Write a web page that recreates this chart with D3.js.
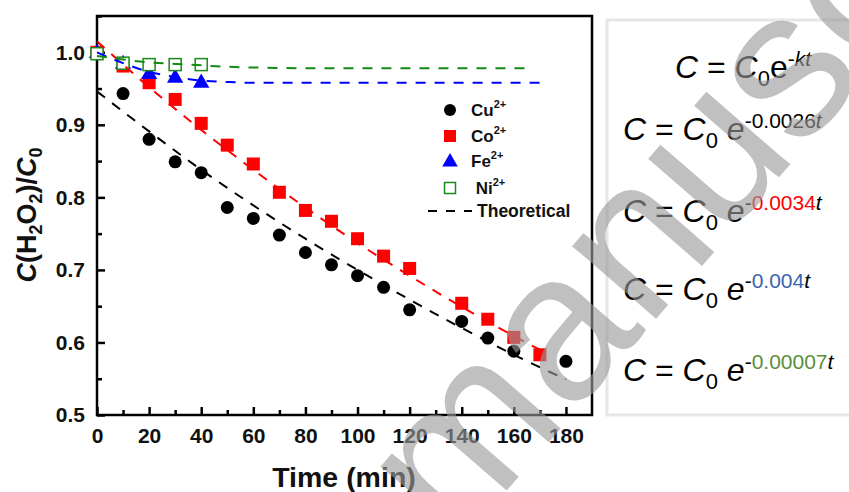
<!DOCTYPE html>
<html>
<head>
<meta charset="utf-8">
<script src="https://cdn.jsdelivr.net/npm/d3@7/dist/d3.min.js"></script>
<style>
  html, body { margin: 0; padding: 0; background: #fff; }
  svg { display: block; }
  text { font-family: Arial, "Liberation Sans", sans-serif; }
</style>
</head>
<body>
<svg id="chart" width="849" height="492"></svg>
<script>
// ---------- data ----------
const timeCu = [0, 10, 20, 30, 40, 50, 60, 70, 80, 90, 100, 110, 120, 140, 150, 160, 180];
const valCu  = [1.0, 0.943, 0.880, 0.849, 0.834, 0.786, 0.771, 0.748, 0.724, 0.707, 0.692, 0.676, 0.645, 0.629, 0.606, 0.588, 0.574];

const timeCo = [0, 10, 20, 30, 40, 50, 60, 70, 80, 90, 100, 110, 120, 140, 150, 160, 170];
const valCo  = [1.0, 0.981, 0.958, 0.935, 0.902, 0.872, 0.846, 0.807, 0.782, 0.767, 0.743, 0.719, 0.702, 0.654, 0.632, 0.607, 0.583];

const timeFe = [0, 10, 20, 30, 40];
const valFe  = [1.0, 0.985, 0.971, 0.966, 0.959];

const timeNi = [0, 10, 20, 30, 40];
const valNi  = [0.998, 0.985, 0.983, 0.983, 0.983];

// dashed fitted curves
const fitCuT = [0, 20, 40, 60, 80, 100, 120, 140, 160, 180];
const fitCuV = [0.946, 0.891, 0.838, 0.789, 0.743, 0.700, 0.659, 0.620, 0.583, 0.549];
const fitCoT = [0, 20, 40, 60, 80, 100, 120, 140, 160, 171];
const fitCoV = [1.015, 0.952, 0.893, 0.838, 0.786, 0.737, 0.692, 0.649, 0.609, 0.588];
const fitFeT = [0, 10, 20, 30, 40, 50, 60, 170];
const fitFeV = [1.0, 0.985, 0.973, 0.966, 0.961, 0.959, 0.958, 0.958];
const fitNiT = [0, 10, 20, 30, 40, 50, 60, 80, 167];
const fitNiV = [0.995, 0.990, 0.986, 0.984, 0.982, 0.980, 0.979, 0.978, 0.978];

const xTicks = [0, 20, 40, 60, 80, 100, 120, 140, 160, 180];
const yTicks = [0.5, 0.6, 0.7, 0.8, 0.9, 1.0];

const legendLabels = ["Cu", "Co", "Fe", " Ni"];
const eqRates = ["0.0026", "0.0034", "0.004", "0.00007"];
const eqColors = ["#000000", "#ff0000", "#3c63ad", "#5b8d3b"];

// ---------- layout ----------
const svg = d3.select("#chart");
const X0 = 97, X1 = 592, Y0 = 16, Y1 = 415;
const x = d3.scaleLinear().domain([0, 190]).range([X0, X1]);
const y = d3.scaleLinear().domain([0.5, 1.05]).range([Y1, Y0]);

const FONT = 'Arial, "Liberation Sans", sans-serif';

// axes with inward ticks
const xAxis = d3.axisBottom(x).tickValues(xTicks).tickSize(-8).tickPadding(13).tickFormat(d3.format("d"));
const xMinor = d3.axisBottom(x).tickValues(d3.range(10, 190, 20)).tickSize(-5).tickFormat("");
const yAxis = d3.axisLeft(y).tickValues(yTicks).tickSize(-8).tickPadding(12).tickFormat(d3.format(".1f"));
const yMinor = d3.axisLeft(y).tickValues([0.55, 0.65, 0.75, 0.85, 0.95, 1.05]).tickSize(-5).tickFormat("");

function styleAxis(g) {
  g.select(".domain").remove();
  g.selectAll(".tick line").attr("stroke", "#000").attr("stroke-width", 2.5);
  g.selectAll(".tick text").attr("font-family", FONT).attr("font-weight", "bold")
    .attr("font-size", 21).attr("fill", "#111");
}
svg.append("g").attr("transform", `translate(0,${Y1})`).call(xAxis).call(styleAxis);
svg.append("g").attr("transform", `translate(0,${Y1})`).call(xMinor).call(styleAxis);
svg.append("g").attr("transform", `translate(${X0},0)`).call(yAxis).call(styleAxis);
svg.append("g").attr("transform", `translate(${X0},0)`).call(yMinor).call(styleAxis);

// frame
svg.append("rect").attr("x", X0).attr("y", Y0).attr("width", X1 - X0).attr("height", Y1 - Y0)
  .attr("fill", "none").attr("stroke", "#000").attr("stroke-width", 2.5);

// axis titles
svg.append("text").attr("x", 344).attr("y", 487).attr("text-anchor", "middle")
  .attr("font-family", FONT).attr("font-weight", "bold").attr("font-size", 28.5).attr("fill", "#111")
  .text("Time (min)");

const yt = svg.append("text").attr("transform", "translate(36,215) rotate(-90)")
  .attr("text-anchor", "middle").attr("font-family", FONT).attr("font-weight", "bold")
  .attr("font-size", 27).attr("fill", "#111");
yt.append("tspan").attr("font-style", "italic").text("C");
yt.append("tspan").text("(H");
yt.append("tspan").attr("font-size", 18).attr("dy", 6).text("2");
yt.append("tspan").attr("dy", -6).text("O");
yt.append("tspan").attr("font-size", 18).attr("dy", 6).text("2");
yt.append("tspan").attr("dy", -6).text(")/");
yt.append("tspan").attr("font-style", "italic").text("C");
yt.append("tspan").attr("font-size", 18).attr("dy", 6).text("0");

// ---------- markers ----------
const plot = svg.append("g");
function pts(ts, vs) { return ts.map((t, i) => [t, vs[i]]); }

plot.selectAll("circle.cu").data(pts(timeCu, valCu)).join("circle")
  .attr("cx", d => x(d[0])).attr("cy", d => y(d[1])).attr("r", 6.5).attr("fill", "#000");

plot.selectAll("rect.co").data(pts(timeCo, valCo)).join("rect")
  .attr("x", d => x(d[0]) - 6.5).attr("y", d => y(d[1]) - 6.5)
  .attr("width", 13).attr("height", 13).attr("fill", "#ff0000");

const tri = d3.symbol().type(d3.symbolTriangle).size(115);
plot.selectAll("path.fe").data(pts(timeFe, valFe)).join("path")
  .attr("d", tri).attr("transform", d => `translate(${x(d[0])},${y(d[1]) + 1})`)
  .attr("fill", "#0000ff");

plot.selectAll("rect.ni").data(pts(timeNi, valNi)).join("rect")
  .attr("x", d => x(d[0]) - 6).attr("y", d => y(d[1]) - 6)
  .attr("width", 12).attr("height", 12).attr("fill", "#fff")
  .attr("stroke", "#1a8a1a").attr("stroke-width", 1.5);

// ---------- dashed fitted curves ----------
const line = d3.line().x(d => x(d[0])).y(d => y(d[1])).curve(d3.curveMonotoneX);
const fits = [
  { t: fitCuT, v: fitCuV, c: "#000" },
  { t: fitCoT, v: fitCoV, c: "#ff0000" },
  { t: fitFeT, v: fitFeV, c: "#0000ff" },
  { t: fitNiT, v: fitNiV, c: "#138a13" }
];
fits.forEach(f => {
  plot.append("path").datum(pts(f.t, f.v)).attr("d", line)
    .attr("fill", "none").attr("stroke", f.c).attr("stroke-width", 2)
    .attr("stroke-dasharray", "10,9");
});

// ---------- legend ----------
const lg = svg.append("g");
const rowY = [110, 136, 161, 188];
const mx = 450;
lg.append("circle").attr("cx", mx).attr("cy", rowY[0]).attr("r", 6).attr("fill", "#000");
lg.append("rect").attr("x", mx - 6).attr("y", rowY[1] - 6).attr("width", 12).attr("height", 12).attr("fill", "#ff0000");
lg.append("path").attr("d", d3.symbol().type(d3.symbolTriangle).size(105))
  .attr("transform", `translate(${mx},${rowY[2] + 1})`).attr("fill", "#0000ff");
lg.append("rect").attr("x", mx - 5.5).attr("y", rowY[3] - 5.5).attr("width", 11).attr("height", 11)
  .attr("fill", "#fff").attr("stroke", "#1a8a1a").attr("stroke-width", 1.5);

legendLabels.forEach((lab, i) => {
  const t = lg.append("text").attr("x", 471).attr("y", rowY[i] + 6)
    .attr("font-family", FONT).attr("font-weight", "bold").attr("font-size", 17).attr("fill", "#111")
    .attr("xml:space", "preserve").style("white-space", "pre");
  t.append("tspan").text(lab);
  t.append("tspan").attr("font-size", 11).attr("dy", -8).text("2+");
});
lg.append("line").attr("x1", 428).attr("x2", 472).attr("y1", 211).attr("y2", 211)
  .attr("stroke", "#000").attr("stroke-width", 2).attr("stroke-dasharray", "9,9");
lg.append("text").attr("x", 477).attr("y", 217)
  .attr("font-family", FONT).attr("font-weight", "bold").attr("font-size", 17.5).attr("fill", "#111")
  .text("Theoretical");

// ---------- equation panel ----------
svg.append("rect").attr("x", 607).attr("y", 20).attr("width", 260).attr("height", 395)
  .attr("fill", "none").attr("stroke", "#e6e6e6").attr("stroke-width", 3);

const EQ = 32, SUP = 21, SUB = 22;
// general equation
const e1 = svg.append("text").attr("x", 675).attr("y", 78)
  .attr("font-family", FONT).attr("font-size", EQ).attr("fill", "#000");
e1.append("tspan").attr("font-style", "italic").text("C");
e1.append("tspan").text(" = ");
e1.append("tspan").attr("font-style", "italic").text("C");
e1.append("tspan").attr("font-size", SUB).attr("dy", 8).text("0");
e1.append("tspan").attr("dy", -8).text("e");
e1.append("tspan").attr("font-size", SUP).attr("dy", -12).text("-");
e1.append("tspan").attr("font-size", SUP).attr("font-style", "italic").text("kt");

const eqY = [140, 222, 300, 381];
eqRates.forEach((r, i) => {
  const t = svg.append("text").attr("x", 623).attr("y", eqY[i])
    .attr("font-family", FONT).attr("font-size", EQ).attr("fill", "#000")
    .attr("xml:space", "preserve").style("white-space", "pre");
  t.append("tspan").attr("font-style", "italic").text("C");
  t.append("tspan").text(" = ");
  t.append("tspan").attr("font-style", "italic").text("C");
  t.append("tspan").attr("font-size", SUB).attr("dy", 8).text("0");
  t.append("tspan").attr("dy", -8).text(" ");
  t.append("tspan").attr("font-style", "italic").text("e");
  t.append("tspan").attr("font-size", SUP).attr("dy", -12).text("-");
  t.append("tspan").attr("font-size", SUP).attr("fill", eqColors[i]).text(r);
  t.append("tspan").attr("font-size", SUP).attr("font-style", "italic").text("t");
});

// ---------- watermark ----------
svg.append("text").attr("transform", "translate(455,550) rotate(-49)")
  .attr("font-family", FONT).attr("font-size", 210).attr("fill", "#9a9a9a").attr("opacity", 0.62)
  .text("manuscript");
</script>
</body>
</html>
